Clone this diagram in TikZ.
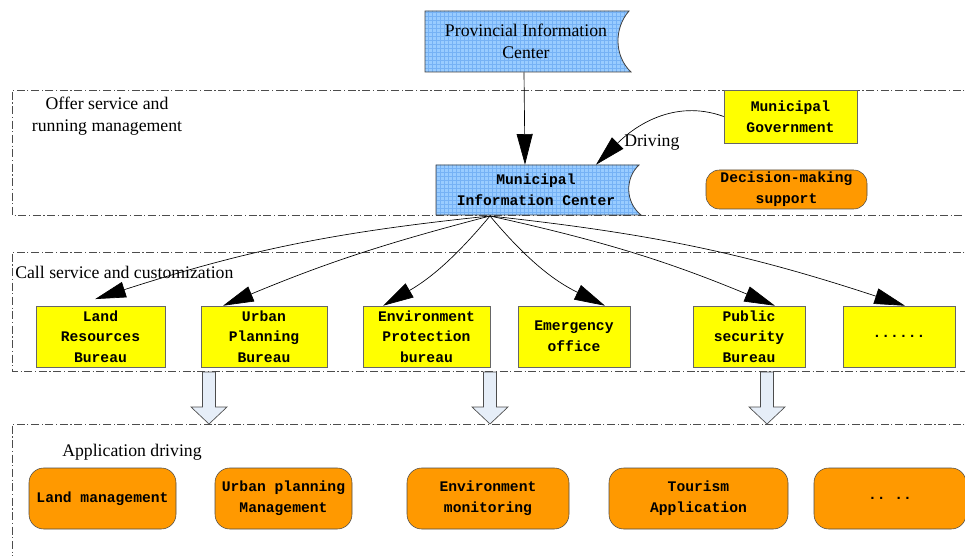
\documentclass[tikz,border=0pt]{standalone}
\usepackage{fontspec}
\setmainfont{Liberation Serif}
\setmonofont{Liberation Mono}
\usetikzlibrary{arrows.meta,patterns}
\definecolor{flagblue}{RGB}{153,204,255}
\definecolor{gridblue}{RGB}{118,178,245}
\definecolor{boxyellow}{RGB}{255,255,0}
\definecolor{apporange}{RGB}{255,153,0}
\definecolor{arrowfill}{RGB}{230,238,248}
\tikzset{
  flag/.style={fill=flagblue, postaction={pattern=grid, pattern color=gridblue}},
  flagline/.style={draw=black!75, line width=0.6pt},
  bureau/.style={draw=black!60, fill=boxyellow, minimum height=45.75pt, inner sep=0pt, align=center, font=\ttfamily\bfseries\fontsize{11}{15.4}\selectfont},
  app/.style={draw=black!70, fill=apporange, rounded corners=11pt, minimum height=45.75pt, inner sep=0pt, align=center, font=\ttfamily\bfseries\fontsize{11}{15.6}\selectfont},
  frame/.style={draw=black!70, line width=0.4pt, dash pattern=on 6pt off 2pt on 0.8pt off 2pt},
  label/.style={font=\fontsize{13.3}{16.5}\selectfont, inner sep=0pt},
  big/.style={-{Triangle[length=23pt,width=12pt]}, line width=0.5pt},
}
\begin{document}
\begin{tikzpicture}[x=0.75pt,y=-0.75pt]
                \useasboundingbox (0,0) rectangle (965,556);

                % frames
                \draw[frame] (975,90) -- (12,90) -- (12,215) -- (975,215);
                \draw[frame] (975,252) -- (12,252) -- (12,371) -- (975,371);
                \draw[frame] (975,424) -- (12,424) -- (12,580);

                % flag shapes
                \path[flag] (425,11) -- (629,11) .. controls (614,28) and (614,56) .. (631,72) -- (425,72) -- cycle;
                \draw[flagline] (425,11) -- (629,11) .. controls (614,28) and (614,56) .. (631,72) -- (425,72) -- cycle;
                \path[flag] (436,165) -- (639,165) .. controls (625,178) and (625,202) .. (641,215) -- (436,215) -- cycle;
                \draw[flagline] (436,165) -- (639,165) .. controls (625,178) and (625,202) .. (641,215) -- (436,215) -- cycle;

                \node[label, minimum width=153.75pt, minimum height=45.75pt, align=center] (pic) at (526,41.5) {Provincial Information\\Center};
                \node[minimum width=153.75pt, minimum height=37.5pt, inner sep=0pt, align=center, font=\ttfamily\bfseries\fontsize{11}{15.6}\selectfont] (mic) at (536,190) {Municipal\\Information Center};

                \node[bureau, minimum width=99.75pt, minimum height=39.75pt] (mg) at (790.5,116.5) {Municipal\\Government};
                \node[app, minimum width=120.75pt, minimum height=29.25pt, rounded corners=10pt] (dms) at (786.5,189.5) {Decision-making\\support};

                \node[label, align=center] (offer) at (107,116) {Offer service and\\running management};
                \node[label, anchor=west] (call) at (15,272) {Call service and customization};
                \node[label, anchor=west] (appdrv) at (62,452) {Application driving};
                \node[label, anchor=west] (drv) at (624,143) {Driving};

                % bureaus
                \node[bureau, minimum width=96.75pt] (land) at (100.5,336.5) {Land\\Resources\\Bureau};
                \node[bureau, minimum width=94.5pt] (urban) at (264,336.5) {Urban\\Planning\\Bureau};
                \node[bureau, minimum width=95.25pt] (env) at (426.5,336.5) {Environment\\Protection\\bureau};
                \node[bureau, minimum width=84pt] (emer) at (574,336.5) {Emergency\\office};
                \node[bureau, minimum width=84pt] (pub) at (749,336.5) {Public\\security\\Bureau};
                \node[bureau, minimum width=84pt] (more) at (899,336.5) {......};

                % applications
                \node[app, minimum width=110.25pt] (landm) at (102.5,498.5) {Land management};
                \node[app, minimum width=102.75pt] (urbanm) at (283.5,498.5) {Urban planning\\Management};
                \node[app, minimum width=121.5pt] (envm) at (488,498.5) {Environment\\monitoring};
                \node[app, minimum width=134.25pt] (tour) at (698.5,498.5) {Tourism\\Application};
                \node[app, minimum width=114pt] (moreapp) at (890,498.5) {.. ..};

                \coordinate (hub) at (490,216);

                \draw[big] ([xshift=-1.5pt]pic.south) to ([xshift=-8.25pt]mic.north);
                \draw[big] (mg.west) to[out=160,in=45] ([xshift=45pt]mic.north);
                \draw[big] (hub) to[bend right=6] ([xshift=-4pt,yshift=5pt]land.north);
                \draw[big] (hub) to[bend right=4] ([xshift=-30.75pt]urban.north);
                \draw[big] (hub) to[bend left=10] ([xshift=-32.6pt]env.north);
                \draw[big] (hub) to[bend right=12] ([xshift=23.25pt]emer.north);
                \draw[big] (hub) to[bend left=5] ([xshift=19.5pt]pub.north);
                \draw[big] (hub) to[bend left=6] ([xshift=4.5pt]more.north);

                % block arrows
                \foreach \x in {209,490,767}
                  \draw[draw=black!70, fill=arrowfill, line width=0.5pt] (\x-6.5,372) -- (\x+6.5,372) -- (\x+6.5,407) -- (\x+18,407) -- (\x,424) -- (\x-18,407) -- (\x-6.5,407) -- cycle;
            \end{tikzpicture}
\end{document}
